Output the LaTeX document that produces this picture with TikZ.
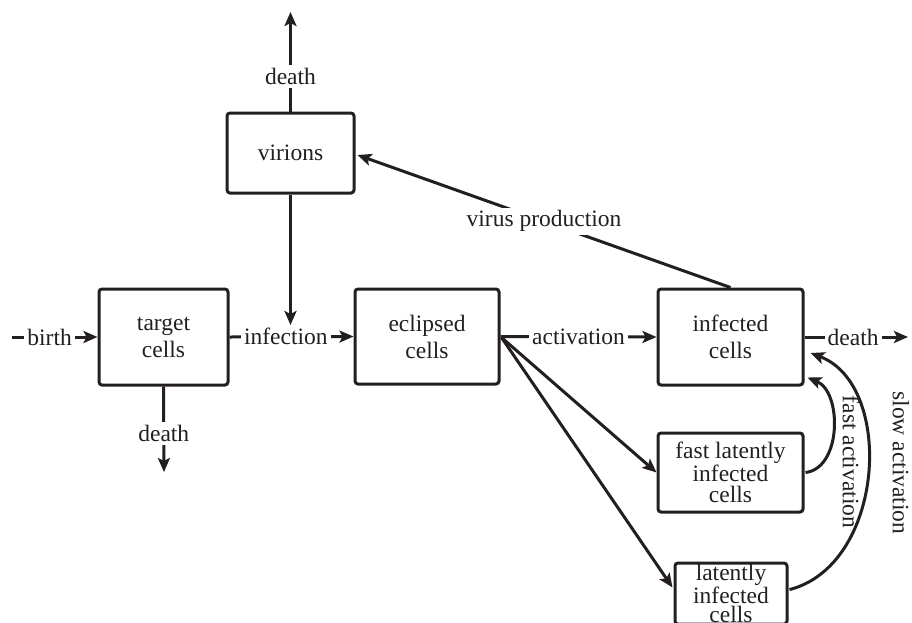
\documentclass[tikz,border=0pt]{standalone}
\usepackage{fontspec}
\setmainfont{Liberation Serif}
\usetikzlibrary{arrows.meta,calc}
\definecolor{ink}{RGB}{35,31,32}
\begin{document}
\begin{tikzpicture}[x=1pt,y=-1pt,
  box/.style={draw=ink, line width=3pt, rounded corners=3pt, align=center,
    font=\fontsize{23.5}{27}\selectfont, text=ink, inner sep=0pt},
  fastbox/.style={box, font=\fontsize{23.5}{21}\selectfont},
  latbox/.style={box, font=\fontsize{23.5}{19}\selectfont},
  flow/.style={draw=ink, line width=3pt, -{Stealth[length=14pt,width=12pt,inset=3pt]}},
  lbl/.style={fill=white, text=ink, font=\fontsize{23.5}{27}\selectfont, inner sep=3pt},
  vlbl/.style={text=ink, font=\fontsize{23.5}{27}\selectfont, inner sep=0pt, rotate=-90}]
\useasboundingbox (0,0) rectangle (912,622);
\clip (0,0) rectangle (912,622);

% boxes
\node[box, minimum width=129pt, minimum height=96pt] (target) at (163.5,337) {target\\cells};
\node[box, minimum width=127pt, minimum height=80pt] (virions) at (290.5,153) {virions};
\node[box, minimum width=144pt, minimum height=95pt] (eclipsed) at (427,336.5) {eclipsed\\cells};
\node[box, minimum width=145pt, minimum height=96pt] (infected) at (730.5,337) {infected\\cells};
\node[fastbox, minimum width=145pt, minimum height=79pt] (fast) at (730.5,472.5) {fast latently\\infected\\cells};
\node[latbox, minimum width=112pt, inner ysep=1.5pt, anchor=north] (latent) at (731,561.5) {latently\\infected\\cells};

% free ends
\coordinate (birthin) at (12,337);
\coordinate (vdeath) at (290.5,12);
\coordinate (tdeath) at (164,472);
\coordinate (vinf) at (290.5,325);
\coordinate (ideath) at (908,337);

% flows
\draw[flow] (birthin) -- node[lbl,pos=0.44]{birth} (target.west);
\draw[flow] (target.east) -- node[lbl,pos=0.454]{infection} (eclipsed.west);
\draw[flow] (virions.south) -- (vinf);
\draw[flow] (virions.north) -- node[lbl,pos=0.35]{death} (vdeath);
\draw[flow] (target.south) -- node[lbl,pos=0.55]{death} (tdeath);
\draw[flow] (eclipsed.east) -- node[lbl,pos=0.5]{activation} (infected.west);
\draw[flow] (infected.east) -- node[lbl,pos=0.47]{death} (ideath);
\draw[flow] (infected.north) -- node[lbl,pos=0.5]{virus production} ($(virions.east)+(2,2)$);
\draw[flow] ($(eclipsed.east)+(1,1)$) -- (fast.west);
\draw[flow] ($(eclipsed.east)+(1,1)$) -- ($(latent.north west)+(-1,26)$);
\draw[flow] ($(fast.east)+(1,0)$) .. controls (842,468) and (842,392) .. ($(infected.south east)+(3,-9)$);
\draw[flow] ($(latent.east)+(1,-4)$) .. controls (885,565) and (895,385) .. ($(infected.east)+(6,16)$);

\node[vlbl] (fastlbl) at (851,462) {fast activation};
\node[vlbl] (slowlbl) at (901,463) {slow activation};
\end{tikzpicture}
\end{document}
